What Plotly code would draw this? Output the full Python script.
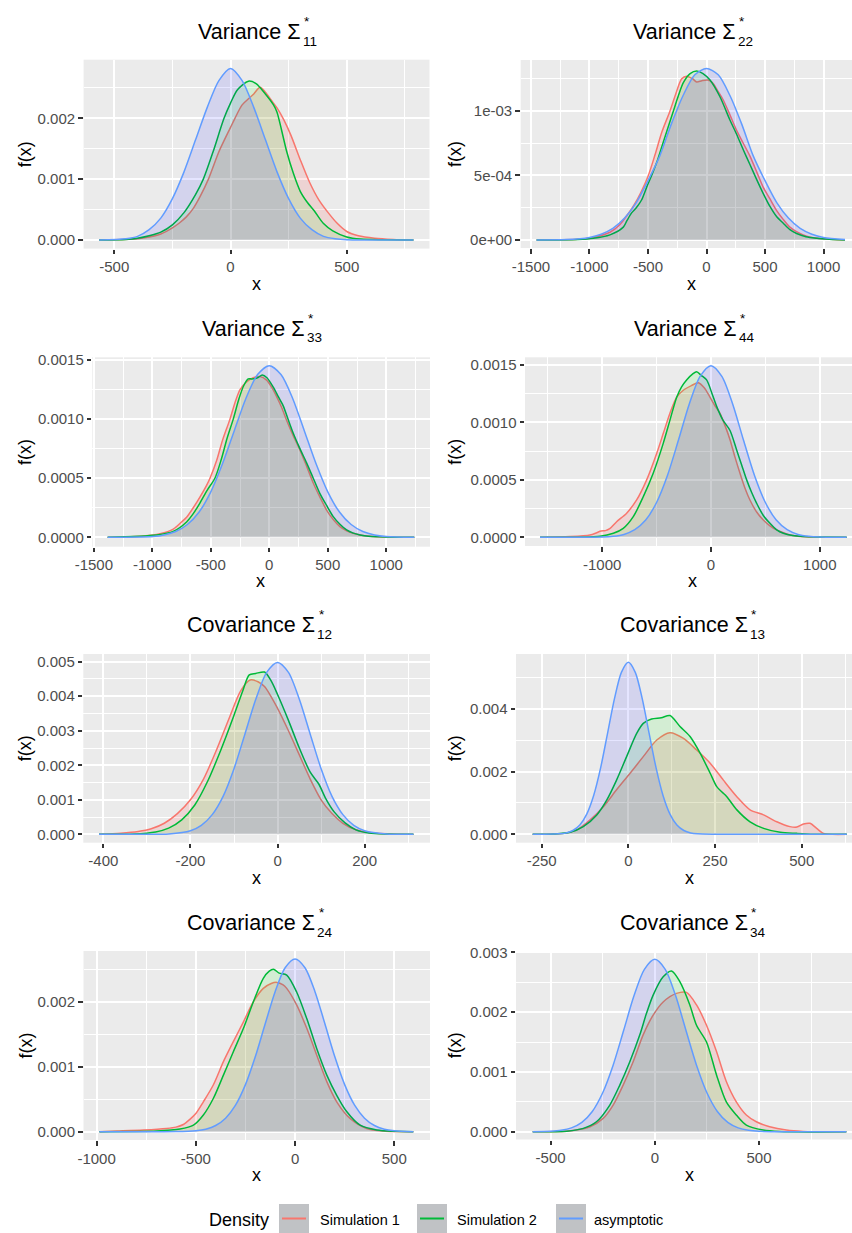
import plotly.graph_objects as go

W, H = 852, 1233
FONT = "Liberation Sans"

SERIES = ["Simulation 1", "Simulation 2", "asymptotic"]
LINE_COLORS = ["#F8766D", "#00BA38", "#619CFF"]
FILL_COLORS = ["rgba(255,0,0,0.1)", "rgba(0,255,0,0.1)", "rgba(0,0,255,0.1)"]

TITLE_KIND = ["Variance", "Variance", "Variance", "Variance",
              "Covariance", "Covariance", "Covariance", "Covariance"]
TITLE_SUB = ["11", "22", "33", "44", "12", "13", "24", "34"]

# ---- density values (y in units of 1e-3) ----
P1_RED_X = [-565, -400, -350, -300, -250, -220, -190, -160, -130, -95, -50, 0, 19, 50, 80, 100, 127, 150, 175, 200, 230, 260, 300, 340, 380, 420, 460, 500, 550, 620, 700, 787]
P1_RED_Y = [0, 0.02, 0.05, 0.10, 0.20, 0.28, 0.38, 0.52, 0.72, 1.0, 1.45, 1.85, 2.0, 2.22, 2.33, 2.40, 2.51, 2.43, 2.30, 2.17, 1.97, 1.72, 1.32, 0.95, 0.66, 0.45, 0.27, 0.14, 0.07, 0.03, 0.01, 0]
P1_GREEN_X = [-565, -450, -400, -350, -300, -250, -200, -150, -117, -75, -28, 0, 30, 77, 110, 150, 185, 200, 220, 242, 270, 300, 330, 360, 400, 440, 500, 560, 787]
P1_GREEN_Y = [0, 0.01, 0.03, 0.07, 0.13, 0.25, 0.45, 0.75, 1.0, 1.45, 2.0, 2.25, 2.47, 2.61, 2.57, 2.40, 2.22, 2.10, 1.80, 1.45, 1.10, 0.80, 0.62, 0.48, 0.27, 0.15, 0.05, 0.015, 0]
P1_BLUE_X = [-565, -450, -400, -350, -300, -250, -200, -150, -100, -50, 0, 50, 100, 150, 200, 250, 300, 350, 400, 450, 500, 787]
P1_BLUE_Y = [0, 0.02, 0.06, 0.17, 0.36, 0.68, 1.12, 1.65, 2.18, 2.62, 2.82, 2.62, 2.18, 1.65, 1.12, 0.68, 0.36, 0.17, 0.06, 0.02, 0.005, 0]

P2_RED_X = [-1452, -1100, -968, -825, -739, -680, -620, -560, -497, -440, -380, -312, -260, -212, -170, -120, -84, -40, 10, 50, 100, 143, 200, 257, 314, 371, 428, 484, 541, 598, 655, 712, 769, 826, 900, 997, 1183]
P2_RED_Y = [0, 0.005, 0.02, 0.06, 0.12, 0.19, 0.27, 0.37, 0.50, 0.66, 0.84, 1.0, 1.14, 1.25, 1.27, 1.25, 1.225, 1.235, 1.24, 1.22, 1.15, 1.085, 0.97, 0.85, 0.75, 0.65, 0.53, 0.41, 0.32, 0.23, 0.16, 0.10, 0.065, 0.04, 0.02, 0.01, 0]
P2_GREEN_X = [-1452, -1100, -968, -825, -711, -680, -640, -600, -555, -511, -469, -426, -369, -283, -240, -198, -140, -84, -30, 30, 115, 200, 257, 314, 371, 428, 485, 542, 600, 656, 713, 770, 850, 941, 1050, 1183]
P2_GREEN_Y = [0, 0.004, 0.013, 0.04, 0.10, 0.15, 0.21, 0.25, 0.31, 0.41, 0.50, 0.60, 0.76, 1.0, 1.12, 1.22, 1.29, 1.31, 1.29, 1.24, 1.11, 0.93, 0.82, 0.70, 0.585, 0.47, 0.36, 0.26, 0.18, 0.13, 0.08, 0.05, 0.025, 0.013, 0.005, 0]
P2_BLUE_X = [-1452, -1200, -1000, -900, -800, -700, -600, -500, -400, -300, -200, -100, 0, 100, 200, 300, 400, 500, 600, 700, 800, 900, 1000, 1183]
P2_BLUE_Y = [0, 0.003, 0.02, 0.045, 0.09, 0.17, 0.29, 0.46, 0.65, 0.90, 1.12, 1.28, 1.33, 1.28, 1.12, 0.90, 0.65, 0.46, 0.29, 0.17, 0.09, 0.045, 0.02, 0.003]

P3_RED_X = [-1382, -1077, -935, -821, -750, -707, -650, -593, -536, -507, -450, -400, -336, -290, -250, -200, -137, -80, -23, 20, 63, 105, 148, 200, 262, 320, 376, 433, 490, 547, 604, 661, 718, 800, 889, 1000, 1240]
P3_RED_Y = [0, 0.01, 0.03, 0.07, 0.13, 0.17, 0.25, 0.34, 0.44, 0.50, 0.65, 0.82, 1.0, 1.15, 1.25, 1.31, 1.35, 1.36, 1.33, 1.27, 1.19, 1.10, 0.99, 0.87, 0.74, 0.60, 0.46, 0.34, 0.23, 0.15, 0.09, 0.055, 0.034, 0.015, 0.006, 0.002, 0]
P3_GREEN_X = [-1382, -963, -821, -707, -650, -593, -530, -465, -410, -360, -308, -260, -220, -180, -150, -100, -60, -20, 34, 77, 120, 160, 205, 262, 319, 376, 433, 490, 547, 604, 661, 718, 775, 850, 1000, 1240]
P3_GREEN_Y = [0, 0.02, 0.05, 0.13, 0.2, 0.29, 0.4, 0.5, 0.66, 0.84, 1.0, 1.17, 1.28, 1.34, 1.34, 1.35, 1.373, 1.35, 1.27, 1.19, 1.11, 1.00, 0.88, 0.75, 0.63, 0.50, 0.37, 0.27, 0.175, 0.11, 0.062, 0.035, 0.02, 0.008, 0.002, 0]
P3_BLUE_X = [-1382, -1000, -900, -800, -700, -600, -500, -400, -300, -200, -100, 0, 100, 200, 300, 400, 500, 600, 700, 800, 900, 1000, 1240]
P3_BLUE_Y = [0, 0.007, 0.020, 0.049, 0.108, 0.214, 0.385, 0.622, 0.900, 1.175, 1.377, 1.452, 1.377, 1.175, 0.900, 0.622, 0.385, 0.214, 0.108, 0.049, 0.020, 0.007, 0]

P4_RED_X = [-1571, -1296, -1112, -1050, -1010, -970, -930, -867, -775, -683, -591, -499, -438, -377, -315, -254, -180, -116, -60, -9, 40, 83, 130, 175, 220, 266, 312, 358, 420, 481, 542, 603, 665, 726, 800, 940, 1247]
P4_RED_Y = [0, 0.006, 0.02, 0.04, 0.055, 0.058, 0.075, 0.136, 0.21, 0.325, 0.50, 0.73, 0.905, 1.08, 1.22, 1.28, 1.32, 1.346, 1.30, 1.22, 1.14, 1.08, 0.97, 0.85, 0.70, 0.56, 0.43, 0.325, 0.22, 0.15, 0.10, 0.064, 0.04, 0.02, 0.01, 0.003, 0]
P4_GREEN_X = [-1571, -1020, -897, -806, -714, -622, -530, -438, -377, -315, -270, -224, -170, -132, -90, -40, 10, 52, 110, 175, 236, 282, 328, 374, 420, 481, 542, 604, 665, 750, 848, 1247]
P4_GREEN_Y = [0, 0.009, 0.035, 0.078, 0.18, 0.354, 0.56, 0.82, 1.02, 1.22, 1.31, 1.37, 1.42, 1.442, 1.41, 1.37, 1.25, 1.14, 1.02, 0.93, 0.76, 0.63, 0.50, 0.39, 0.296, 0.19, 0.122, 0.065, 0.035, 0.015, 0.006, 0]
P4_BLUE_X = [-1571, -1000, -900, -800, -700, -600, -500, -400, -300, -200, -100, 0, 100, 200, 300, 400, 500, 600, 700, 800, 900, 1000, 1247]
P4_BLUE_Y = [0, 0.0025, 0.0085, 0.025, 0.066, 0.150, 0.303, 0.538, 0.842, 1.158, 1.401, 1.494, 1.401, 1.158, 0.842, 0.538, 0.303, 0.150, 0.066, 0.025, 0.0085, 0.0025, 0]

P5_RED_X = [-410, -360, -320, -290, -260, -230, -200, -170, -140, -110, -85, -63, -45, -30, 0, 25, 50, 75, 100, 125, 150, 180, 220, 312]
P5_RED_Y = [0, 0.03, 0.08, 0.16, 0.32, 0.6, 1.0, 1.6, 2.45, 3.4, 4.15, 4.47, 4.42, 4.28, 3.65, 3.0, 2.3, 1.6, 1.0, 0.6, 0.32, 0.13, 0.04, 0]
P5_GREEN_X = [-410, -330, -280, -250, -220, -190, -160, -130, -100, -80, -65, -50, -30, -15, 0, 25, 50, 75, 95, 110, 130, 155, 180, 210, 250, 312]
P5_GREEN_Y = [0, 0.01, 0.07, 0.18, 0.42, 0.85, 1.55, 2.45, 3.45, 4.15, 4.62, 4.66, 4.70, 4.45, 4.05, 3.3, 2.5, 1.8, 1.45, 1.05, 0.65, 0.33, 0.13, 0.04, 0.01, 0]
P5_BLUE_X = [-410, -300, -250, -200, -175, -150, -125, -100, -75, -50, -25, 0, 25, 50, 75, 100, 125, 150, 175, 200, 250, 312]
P5_BLUE_Y = [0, 0.001, 0.012, 0.105, 0.26, 0.57, 1.10, 1.90, 2.90, 3.91, 4.69, 4.98, 4.69, 3.91, 2.90, 1.90, 1.10, 0.57, 0.26, 0.105, 0.012, 0]

P6_RED_X = [-276, -235, -187, -149, -110, -72, -34, 5, 43, 82, 120, 159, 197, 236, 274, 313, 351, 390, 428, 466, 486, 505, 524, 543, 563, 630]
P6_RED_Y = [0, 0.005, 0.03, 0.14, 0.46, 0.88, 1.42, 1.95, 2.48, 3.01, 3.245, 3.06, 2.69, 2.27, 1.73, 1.20, 0.78, 0.62, 0.40, 0.245, 0.23, 0.33, 0.35, 0.19, 0.03, 0]
P6_GREEN_X = [-276, -216, -168, -130, -91, -62, -34, -5, 24, 43, 67, 95, 120, 149, 178, 207, 236, 255, 270, 284, 313, 351, 390, 438, 486, 534, 630]
P6_GREEN_Y = [0, 0.01, 0.064, 0.245, 0.62, 1.10, 1.73, 2.48, 3.22, 3.54, 3.68, 3.72, 3.79, 3.44, 3.12, 2.59, 1.95, 1.52, 1.35, 1.20, 0.78, 0.40, 0.19, 0.064, 0.03, 0.005, 0]
P6_BLUE_X = [-276, -250, -200, -180, -160, -140, -120, -100, -80, -60, -40, -20, 0, 20, 40, 60, 80, 100, 120, 140, 160, 180, 200, 250, 630]
P6_BLUE_Y = [0, 0.001, 0.014, 0.044, 0.122, 0.298, 0.646, 1.24, 2.12, 3.22, 4.33, 5.17, 5.49, 5.17, 4.33, 3.22, 2.12, 1.24, 0.646, 0.298, 0.122, 0.044, 0.014, 0.001, 0]

P7_RED_X = [-986, -899, -764, -647, -600, -563, -530, -500, -462, -412, -361, -311, -260, -210, -160, -120, -92, -60, -42, 8, 59, 109, 160, 210, 277, 361, 445, 596]
P7_RED_Y = [0, 0.01, 0.026, 0.05, 0.07, 0.11, 0.19, 0.28, 0.46, 0.718, 1.077, 1.385, 1.69, 2.0, 2.205, 2.28, 2.297, 2.26, 2.205, 1.95, 1.59, 1.18, 0.77, 0.46, 0.205, 0.05, 0.01, 0]
P7_GREEN_X = [-986, -697, -580, -512, -462, -412, -361, -311, -260, -210, -160, -130, -109, -80, -42, 8, 59, 109, 160, 210, 260, 328, 412, 496, 596]
P7_GREEN_Y = [0, 0.01, 0.04, 0.10, 0.256, 0.51, 0.87, 1.23, 1.59, 2.0, 2.36, 2.47, 2.50, 2.44, 2.41, 2.15, 1.74, 1.28, 0.87, 0.56, 0.31, 0.10, 0.026, 0.005, 0]
P7_BLUE_X = [-986, -600, -500, -450, -400, -350, -300, -250, -200, -150, -100, -50, 0, 50, 100, 150, 200, 250, 300, 350, 400, 450, 500, 596]
P7_BLUE_Y = [0, 0.0015, 0.015, 0.039, 0.095, 0.208, 0.408, 0.724, 1.156, 1.664, 2.158, 2.522, 2.657, 2.522, 2.158, 1.664, 1.156, 0.724, 0.408, 0.208, 0.095, 0.039, 0.015, 0]

P8_RED_X = [-586, -471, -391, -311, -248, -200, -152, -104, -56, -8, 40, 104, 152, 200, 248, 296, 343, 391, 439, 487, 551, 631, 711, 919]
P8_RED_Y = [0, 0.002, 0.022, 0.084, 0.223, 0.446, 0.78, 1.17, 1.62, 1.95, 2.17, 2.313, 2.33, 2.12, 1.78, 1.34, 0.84, 0.50, 0.28, 0.167, 0.084, 0.028, 0.005, 0]
P8_GREEN_X = [-586, -423, -343, -280, -216, -168, -120, -72, -40, -8, 40, 80, 120, 168, 200, 248, 296, 343, 391, 439, 519, 599, 919]
P8_GREEN_Y = [0, 0.01, 0.056, 0.167, 0.446, 0.78, 1.17, 1.62, 1.98, 2.285, 2.59, 2.687, 2.51, 2.12, 1.78, 1.50, 0.95, 0.50, 0.28, 0.11, 0.028, 0.003, 0]
P8_BLUE_X = [-586, -500, -450, -400, -350, -300, -250, -200, -150, -100, -50, 0, 50, 100, 150, 200, 250, 300, 350, 400, 450, 500, 919]
P8_BLUE_Y = [0, 0.0075, 0.023, 0.064, 0.156, 0.339, 0.652, 1.113, 1.688, 2.272, 2.715, 2.882, 2.715, 2.272, 1.688, 1.113, 0.652, 0.339, 0.156, 0.064, 0.023, 0.0075, 0]

# ---- tick values / labels ----
X_TICKS = [[-500, 0, 500], [-1500, -1000, -500, 0, 500, 1000], [-1500, -1000, -500, 0, 500, 1000],
           [-1000, 0, 1000], [-400, -200, 0, 200], [-250, 0, 250, 500], [-1000, -500, 0, 500], [-500, 0, 500]]
X_MINOR = [250, 250, 250, 500, 100, 125, 250, 250]
Y_TICKS = [[0, 1, 2], [0, 0.5, 1.0], [0, 0.5, 1.0, 1.5], [0, 0.5, 1.0, 1.5],
           [0, 1, 2, 3, 4, 5], [0, 2, 4], [0, 1, 2], [0, 1, 2, 3]]
Y_LABELS = [["0.000", "0.001", "0.002"], ["0e+00", "5e-04", "1e-03"],
            ["0.0000", "0.0005", "0.0010", "0.0015"], ["0.0000", "0.0005", "0.0010", "0.0015"],
            ["0.000", "0.001", "0.002", "0.003", "0.004", "0.005"], ["0.000", "0.002", "0.004"],
            ["0.000", "0.001", "0.002"], ["0.000", "0.001", "0.002", "0.003"]]
Y_MINOR = [0.5, 0.25, 0.25, 0.25, 0.5, 1.0, 0.5, 0.5]

DATA = [
    [(P1_RED_X, P1_RED_Y), (P1_GREEN_X, P1_GREEN_Y), (P1_BLUE_X, P1_BLUE_Y)],
    [(P2_RED_X, P2_RED_Y), (P2_GREEN_X, P2_GREEN_Y), (P2_BLUE_X, P2_BLUE_Y)],
    [(P3_RED_X, P3_RED_Y), (P3_GREEN_X, P3_GREEN_Y), (P3_BLUE_X, P3_BLUE_Y)],
    [(P4_RED_X, P4_RED_Y), (P4_GREEN_X, P4_GREEN_Y), (P4_BLUE_X, P4_BLUE_Y)],
    [(P5_RED_X, P5_RED_Y), (P5_GREEN_X, P5_GREEN_Y), (P5_BLUE_X, P5_BLUE_Y)],
    [(P6_RED_X, P6_RED_Y), (P6_GREEN_X, P6_GREEN_Y), (P6_BLUE_X, P6_BLUE_Y)],
    [(P7_RED_X, P7_RED_Y), (P7_GREEN_X, P7_GREEN_Y), (P7_BLUE_X, P7_BLUE_Y)],
    [(P8_RED_X, P8_RED_Y), (P8_GREEN_X, P8_GREEN_Y), (P8_BLUE_X, P8_BLUE_Y)],
]

# ---- layout geometry (pixels) ----
PANEL_PX = [  # left, right, top, bottom
    (83.6, 429.5, 59.7, 248.6), (520.7, 852, 60, 248),
    (92.3, 430, 357.3, 546.7), (525, 852, 357.3, 546),
    (83.3, 430, 654, 842.7), (516, 852, 654, 842.7),
    (83.5, 430, 951, 1140), (516, 852, 951, 1139.5),
]
X_RANGE = [(-632, 856), (-1587.5, 1243), (-1513, 1374), (-1709, 1296),
           (-446, 350), (-324, 645), (-1066, 680), (-666, 946)]
Y_RANGE = [(-0.141, 2.963), (-0.062, 1.395), (-0.0795, 1.523), (-0.0757, 1.567),
           (-0.243, 5.223), (-0.268, 5.756), (-0.128, 2.78), (-0.13, 3.022)]
TITLE_CX = [256.5, 691.5, 260.5, 692.5, 256.7, 689.3, 256.7, 689.3]
TITLE_BASE = [39, 39, 336, 336, 632.7, 632.7, 930, 930]
XLAB_BASE = [290, 290, 587, 587, 884, 884, 1181, 1181]
YLAB_X = [25, 455, 25, 455, 25, 455, 25, 455]


def fx(px):
    return px / W


def fy(py):
    return 1 - py / H


fig = go.Figure()
for i in range(8):
    n = "" if i == 0 else str(i + 1)
    for s in range(3):
        xs, ys = DATA[i][s]
        fig.add_trace(go.Scatter(
            x=xs, y=ys, mode="lines", name=SERIES[s], showlegend=False,
            line=dict(color=LINE_COLORS[s], width=1.5, shape="spline", smoothing=0.8),
            fill="tozeroy", fillcolor=FILL_COLORS[s],
            xaxis="x" + n, yaxis="y" + n, hoverinfo="skip"))
    l, r, t, b = PANEL_PX[i]
    common = dict(showgrid=True, gridcolor="white", gridwidth=2.2, zeroline=False,
                  showline=False, ticks="outside", ticklen=4.5, tickwidth=1.5, automargin=False,
                  tickcolor="#333333", tickfont=dict(family=FONT, size=15, color="#4D4D4D"))
    fig.layout["xaxis" + n] = dict(
        domain=[fx(l), fx(r)], range=list(X_RANGE[i]), anchor="y" + n,
        tickmode="array", tickvals=X_TICKS[i], ticktext=[str(v) for v in X_TICKS[i]],
        minor=dict(tickmode="linear", tick0=0, dtick=X_MINOR[i], showgrid=True,
                   gridcolor="white", gridwidth=1.1, ticks=""),
        **common)
    fig.layout["yaxis" + n] = dict(
        domain=[fy(b), fy(t)], range=list(Y_RANGE[i]), anchor="x" + n,
        tickmode="array", tickvals=Y_TICKS[i], ticktext=Y_LABELS[i],
        minor=dict(tickmode="linear", tick0=0, dtick=Y_MINOR[i], showgrid=True,
                   gridcolor="white", gridwidth=1.1, ticks=""),
        **common)


def add_text(text, xpx, ypx, size, color="black", xanchor="center", yanchor="middle", angle=0):
    fig.add_annotation(text=text, x=fx(xpx), y=fy(ypx), xref="paper", yref="paper",
                       showarrow=False, xanchor=xanchor, yanchor=yanchor, textangle=angle,
                       borderpad=0, font=dict(family=FONT, size=size, color=color))


for i in range(8):
    l, r, t, b = PANEL_PX[i]
    cx = TITLE_CX[i]
    off = 45 if TITLE_KIND[i] == "Variance" else 59.3
    xs = cx + off
    base = TITLE_BASE[i]
    add_text(TITLE_KIND[i] + " Σ", xs, base - 7.45, 21.5, xanchor="right")
    add_text(TITLE_SUB[i], xs, base + 2, 13.5, xanchor="left")
    add_text("*", xs + 1.5, base - 17.9, 13.5, xanchor="left")
    add_text("x", cx, XLAB_BASE[i] - 6.2, 18)
    add_text("f(x)", YLAB_X[i], (t + b) / 2, 18, angle=-90)

# ---- legend ----
add_text("Density", 208, 1219.8, 18, xanchor="left")
LEG_BOX_X = [279, 417, 556]
LEG_TEXT_X = [319, 456, 593]
for s in range(3):
    x0 = LEG_BOX_X[s]
    fig.add_shape(type="rect", xref="paper", yref="paper",
                  x0=fx(x0), x1=fx(x0 + 30), y0=fy(1233), y1=fy(1204),
                  fillcolor="rgb(192,194,197)", line=dict(width=0))
    fig.add_shape(type="line", xref="paper", yref="paper",
                  x0=fx(x0 + 3), x1=fx(x0 + 27), y0=fy(1218.5), y1=fy(1218.5),
                  line=dict(color=LINE_COLORS[s], width=2))
    add_text(SERIES[s], LEG_TEXT_X[s], 1220, 14.5, xanchor="left")

fig.update_layout(width=W, height=H, margin=dict(l=0, r=0, t=0, b=0, autoexpand=False),
                  template="none",
                  paper_bgcolor="white", plot_bgcolor="#EBEBEB", showlegend=False)

fig.write_html("out.html", include_plotlyjs=True, config={"displayModeBar": False},
               post_script="document.body.style.margin='0px';document.body.style.overflow='hidden';")
